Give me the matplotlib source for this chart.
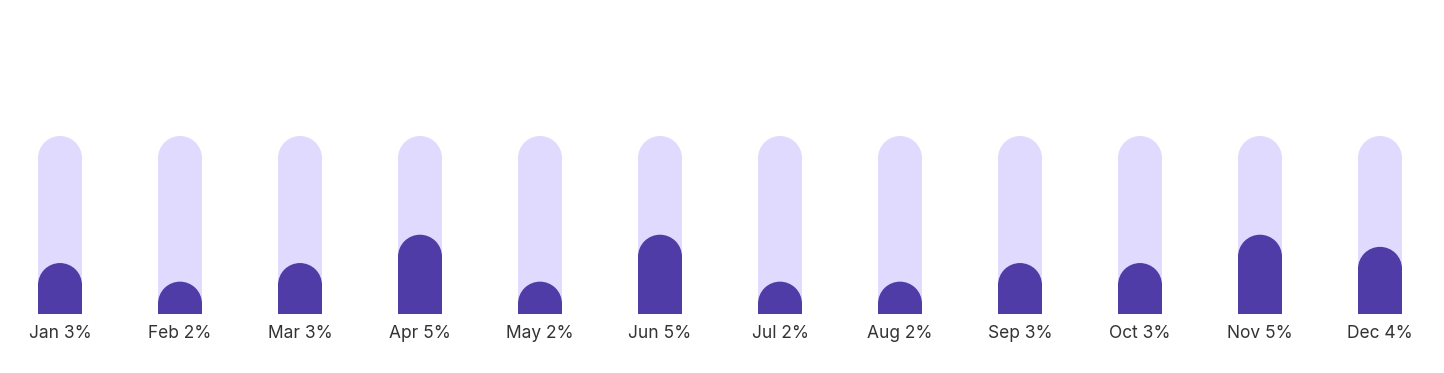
import numpy as np
import matplotlib
matplotlib.use("Agg")
import matplotlib.pyplot as plt
from matplotlib.patches import Rectangle, Ellipse

# Data
months = ["Jan", "Feb", "Mar", "Apr", "May", "Jun", "Jul", "Aug", "Sep", "Oct", "Nov", "Dec"]
shares = [3, 2, 3, 5, 2, 5, 2, 2, 3, 3, 5, 4]          # label values (%)
heights = [3.15, 2.0, 3.15, 4.9, 2.0, 4.9, 2.0, 2.0, 3.15, 3.15, 4.9, 4.15]  # bar heights (%)
track_max = 11.0

track_color = "#E0DBFE"
bar_color = "#4F3CA7"
text_color = "#333333"

W, H = 1444, 373
fig = plt.figure(figsize=(W / 100, H / 100), dpi=100)
fig.patch.set_facecolor("white")

# axes: x centres at 60 px step 120 px, bars from y=314 px to 136 px (from top)
bottom_px, top_px = H - 314, H - 136
ax = fig.add_axes([0, bottom_px / H, 1, (top_px - bottom_px) / H])
ax.set_xlim(-0.5, (W - 60) / 120)
ax.set_ylim(0, track_max)
ax.set_axis_off()

bar_w = 44 / 120
px_per_unit = (top_px - bottom_px) / track_max
r = 22 / px_per_unit  # cap radius in data units


def rounded_bar(x, h, color, z):
    ax.add_patch(Rectangle((x - bar_w / 2, 0), bar_w, h - r, facecolor=color,
                           edgecolor="none", zorder=z))
    ax.add_patch(Ellipse((x, h - r), bar_w, 2 * r, facecolor=color,
                         edgecolor="none", zorder=z))


x = np.arange(len(months))
for i in x:
    rounded_bar(i, track_max, track_color, 1)
    rounded_bar(i, heights[i], bar_color, 2)
    ax.annotate(f"{months[i]} {shares[i]}%", xy=(i, 0), xytext=(0, -19),
                textcoords="offset pixels", ha="center", va="center",
                fontsize=12.5, family=["Inter", "DejaVu Sans"], color=text_color,
                annotation_clip=False)

fig.savefig("out.png", dpi=100, facecolor="white")
